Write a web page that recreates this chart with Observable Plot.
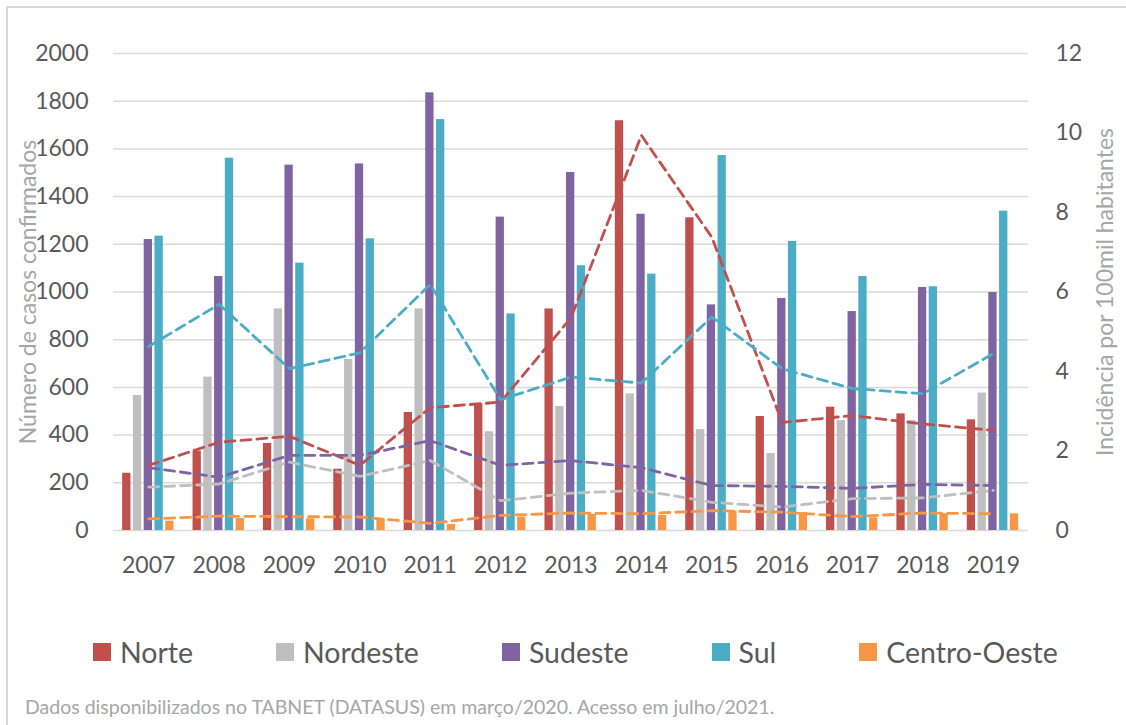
<!DOCTYPE html>
<html>
<head>
<meta charset="utf-8">
<script src="https://cdn.jsdelivr.net/npm/d3@7"></script>
<script src="https://cdn.jsdelivr.net/npm/@observablehq/plot@0.6"></script>
<style>
html,body{margin:0;padding:0;background:#fff;}
body{width:1126px;height:725px;overflow:hidden;position:relative;font-family:Lato,"Open Sans",sans-serif;}
#frame{position:absolute;left:6px;top:6px;width:1300px;height:900px;border-left:2px solid #d9d9d9;border-top:2px solid #d9d9d9;pointer-events:none;}
#chart{position:absolute;left:0;top:0;}
#legend{position:absolute;top:636px;left:93px;display:flex;align-items:center;font-size:28.5px;color:#595959;white-space:nowrap;}
.item{display:flex;align-items:center;margin-right:83px;line-height:32px;}
.sw{width:18px;height:18px;margin-right:9px;}
#caption{position:absolute;left:25px;top:695px;font-size:19.5px;color:#a6a6a6;white-space:nowrap;}
</style>
</head>
<body>
<div id="chart"></div>
<div id="legend"></div>
<div id="caption"></div>
<div id="frame"></div>
<script>
// ---- data ----
const years = [2007, 2008, 2009, 2010, 2011, 2012, 2013, 2014, 2015, 2016, 2017, 2018, 2019];
const regions = ["Norte", "Nordeste", "Sudeste", "Sul", "Centro-Oeste"];
const colors = ["#C0504D", "#BFBFBF", "#8064A2", "#4BACC6", "#F79646"];

// casos confirmados (eixo esquerdo)
const casosNorte       = [240, 333, 365, 257, 495, 531, 929, 1718, 1311, 478, 517, 489, 464];
const casosNordeste    = [566, 643, 929, 717, 929, 414, 520, 573, 423, 323, 461, 461, 576];
const casosSudeste     = [1220, 1065, 1532, 1537, 1835, 1314, 1501, 1326, 946, 973, 918, 1019, 998];
const casosSul         = [1234, 1561, 1121, 1223, 1723, 908, 1110, 1075, 1572, 1212, 1065, 1022, 1339];
const casosCentroOeste = [39, 50, 49, 48, 25, 56, 67, 63, 81, 75, 53, 70, 70];

// incidência por 100 mil habitantes (eixo direito)
const incNorte       = [1.64, 2.22, 2.37, 1.64, 3.09, 3.23, 5.35, 9.94, 7.38, 2.72, 2.89, 2.68, 2.52];
const incNordeste    = [1.09, 1.17, 1.72, 1.36, 1.76, 0.75, 0.94, 1.01, 0.71, 0.59, 0.80, 0.82, 1.01];
const incSudeste     = [1.58, 1.34, 1.89, 1.89, 2.26, 1.64, 1.76, 1.58, 1.13, 1.11, 1.06, 1.16, 1.13];
const incSul         = [4.63, 5.69, 4.07, 4.47, 6.19, 3.29, 3.86, 3.71, 5.37, 4.07, 3.57, 3.44, 4.45];
const incCentroOeste = [0.29, 0.36, 0.35, 0.34, 0.18, 0.38, 0.44, 0.42, 0.50, 0.46, 0.35, 0.44, 0.42];

const leftTicks = [0, 200, 400, 600, 800, 1000, 1200, 1400, 1600, 1800, 2000];
const rightTicks = [0, 2, 4, 6, 8, 10, 12];

const leftTitle = "Número de casos confirmados";
const rightTitle = "Incidência por 100mil habitantes";
const captionText = "Dados disponibilizados no TABNET (DATASUS) em março/2020. Acesso em julho/2021.";

// ---- build tables ----
const casos = [casosNorte, casosNordeste, casosSudeste, casosSul, casosCentroOeste];
const incid = [incNorte, incNordeste, incSudeste, incSul, incCentroOeste];
const yMax = 2000, incMax = 12, k = yMax / incMax;

const bars = [], lines = [];
regions.forEach((r, i) => {
  years.forEach((yr, j) => {
    bars.push({region: r, i, year: yr, value: casos[i][j]});
    lines.push({region: r, year: yr, value: incid[i][j]});
  });
});

// clustered bar geometry (in year units)
const barStart = -0.37, barStep = 0.153, barW = 0.118;

const plot = Plot.plot({
  width: 1126,
  height: 600,
  marginLeft: 113,
  marginRight: 98,
  marginTop: 53,
  marginBottom: 70,
  style: {fontFamily: "Lato, 'Open Sans', sans-serif", fontSize: "23px", background: "transparent"},
  x: {type: "linear", domain: [2006.5, 2019.5]},
  y: {domain: [0, yMax]},
  color: {domain: regions, range: colors},
  marks: [
    Plot.ruleY(leftTicks, {stroke: "#D9D9D9", strokeWidth: 1.5}),
    Plot.rectY(bars, {
      x1: d => d.year + barStart + d.i * barStep,
      x2: d => d.year + barStart + d.i * barStep + barW,
      y1: 0, y2: "value", fill: "region"
    }),
    Plot.line(lines, {
      x: "year", y: d => d.value * k, z: "region", stroke: "region",
      strokeWidth: 2.8, strokeDasharray: "10,6"
    }),
    Plot.axisY(leftTicks, {anchor: "left", tickSize: 0, tickPadding: 25, label: null, color: "#595959", fontSize: 23, tickFormat: d => String(d)}),
    Plot.axisY(rightTicks.map(t => t * k), {anchor: "right", tickSize: 0, tickPadding: 27, label: null, color: "#595959", fontSize: 23, tickFormat: d => String(Math.round(d / k))}),
    Plot.axisX(years, {anchor: "bottom", tickSize: 0, tickPadding: 26, label: null, color: "#595959", fontSize: 23, tickFormat: d => String(d)}),
    Plot.text([leftTitle], {frameAnchor: "left", dx: -85, rotate: -90, fill: "#A6A6A6", fontSize: 23, textAnchor: "middle"}),
    Plot.text([rightTitle], {frameAnchor: "right", dx: 77, rotate: -90, fill: "#A6A6A6", fontSize: 23, textAnchor: "middle"})
  ]
});
document.getElementById("chart").appendChild(plot);

// legend
const legend = document.getElementById("legend");
regions.forEach((r, i) => {
  const item = document.createElement("div");
  item.className = "item";
  const sw = document.createElement("div");
  sw.className = "sw";
  sw.style.background = colors[i];
  const t = document.createElement("span");
  t.textContent = r;
  item.appendChild(sw); item.appendChild(t);
  legend.appendChild(item);
});
document.getElementById("caption").textContent = captionText;
</script>
</body>
</html>
